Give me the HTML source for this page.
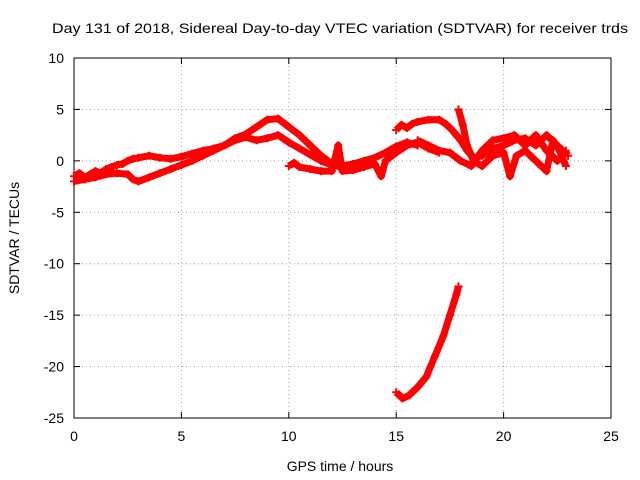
<!DOCTYPE html>
<html><head><meta charset="utf-8"><style>
body{margin:0;background:#fff;}
svg{display:block;font-family:"Liberation Sans",sans-serif;font-size:14px;}
</style></head><body>
<svg id="chart" width="640" height="480" viewBox="0 0 640 480">
<rect x="0" y="0" width="640" height="480" fill="#fff"/>
<text x="340" y="33" text-anchor="middle" textLength="576" lengthAdjust="spacingAndGlyphs">Day 131 of 2018, Sidereal Day-to-day VTEC variation (SDTVAR) for receiver trds</text>
<text x="340" y="471" text-anchor="middle">GPS time / hours</text>
<text transform="translate(19,238) rotate(-90)" text-anchor="middle">SDTVAR / TECUs</text>
<g id="grid"></g>
<g id="axes"></g>
<g id="marks"></g>
</svg>
<script>
const xTicks=[0,5,10,15,20,25];
const yTicks=[10,5,0,-5,-10,-15,-20,-25];
const trackA=[[0,-1.5],[0.25,-1.2],[0.5,-1.6],[0.75,-1.3],[1,-1.0],[1.25,-1.2],[1.5,-0.8],[1.75,-0.6],[2,-0.4],[2.25,-0.3],[2.5,0],[2.75,0.2],[3,0.3],[3.5,0.5],[4,0.3],[4.5,0.2],[5,0.4],[5.5,0.7],[6,1.0],[6.5,1.2],[7,1.5],[7.5,2.0],[8,2.3],[8.5,2.0],[9,2.2],[9.5,2.5],[10,1.8],[10.5,1.2],[11,0.6],[11.5,0],[12,-0.4],[12.5,-0.5],[13,-0.3],[13.5,0],[14,0.3],[14.5,0.8],[15,1.4],[15.5,1.8],[16,1.5]];
const trackB=[[0,-2],[0.5,-1.8],[1,-1.6],[1.5,-1.3],[2,-1.2],[2.5,-1.3],[2.75,-1.8],[3,-2],[3.5,-1.6],[4,-1.2],[4.5,-0.8],[5,-0.4],[5.5,0],[6,0.5],[6.5,1],[7,1.5],[7.5,2.2],[8,2.6],[8.5,3.3],[9,4],[9.5,4.1],[10,3.3],[10.5,2.5],[11,1.5],[11.5,0.5],[12,-0.3],[12.5,-0.7],[13,-0.6],[13.5,-0.3]];
const trackF=[[10,-0.5],[10.25,-0.2],[10.5,-0.6],[11,-0.8],[11.5,-1],[12,-1],[12.3,1.5],[12.5,-1],[13,-0.9],[13.5,-0.6],[14,-0.3],[14.3,-1.5],[14.5,0],[15,0.8],[15.5,1.5],[16,1.8],[16.5,1.2],[17,0.8]];
const trackC=[[15,3],[15.25,3.5],[15.5,3.2],[15.75,3.6],[16,3.8],[16.5,4],[17,4],[17.3,3.6],[17.6,3],[18,2],[18.3,1],[18.6,0.3],[19,0.5],[19.5,1.2],[20,1.5],[20.5,2],[21,2.2],[21.5,1.5],[22,2.5],[22.5,1.5],[23,0.5]];
const trackD=[[17.9,5],[18.1,3.5],[18.3,1.5],[18.6,0],[19,-0.5],[19.5,0.5],[20,0.8],[20.3,-1.5],[20.6,0.5],[21,1],[21.5,0],[22,-1],[22.3,2],[22.6,1],[22.9,-0.5]];
const trackG=[[16,2],[16.5,1.5],[17,1],[17.5,0.8],[18,0],[18.5,-0.5],[19,1],[19.5,2],[20,2.2],[20.5,2.5],[21,1.5],[21.5,2.5],[22,1],[22.5,0],[22.9,1]];
const trackE=[[15,-22.5],[15.3,-23.1],[15.6,-22.8],[16,-22],[16.4,-21],[16.8,-19],[17.2,-17],[17.5,-15],[17.8,-13],[17.9,-12.2]];
const tracks=[trackA,trackB,trackF,trackC,trackD,trackG,trackE];

const L=74,R=611,T=58,B=418;
const xs=v=>L+(v-0)/25*(R-L);
const ys=v=>T+(10-v)/35*(B-T);
const NS='http://www.w3.org/2000/svg';
const grid=document.getElementById('grid'),axes=document.getElementById('axes'),marks=document.getElementById('marks');
function mk(tag,attrs,parent){const e=document.createElementNS(NS,tag);for(const k in attrs)e.setAttribute(k,attrs[k]);parent.appendChild(e);return e;}
xTicks.forEach(t=>{
  const x=xs(t);
  if(t>0&&t<25){const g=mk('line',{x1:x,x2:x,y1:T,y2:B,stroke:'#a0a0a0','stroke-dasharray':'1,3'},grid);
  
  }
  mk('line',{x1:x,x2:x,y1:B,y2:B-6,stroke:'#000'},axes);
  mk('line',{x1:x,x2:x,y1:T,y2:T+6,stroke:'#000'},axes);
  const l=mk('text',{x:x,y:B+23,'text-anchor':'middle'},axes);l.textContent=t;
  
  
});
yTicks.forEach(t=>{
  const y=ys(t);
  if(t<10&&t>-25){const g=mk('line',{x1:L,x2:R,y1:y,y2:y,stroke:'#a0a0a0','stroke-dasharray':'1,3'},grid);
  
  }
  mk('line',{x1:L,x2:L+6,y1:y,y2:y,stroke:'#000'},axes);
  mk('line',{x1:R,x2:R-6,y1:y,y2:y,stroke:'#000'},axes);
  const l=mk('text',{x:L-10,y:y+5,'text-anchor':'end'},axes);l.textContent=t;
  
  
});
mk('rect',{x:L,y:T,width:R-L,height:B-T,fill:'none',stroke:'#000'},axes);
tracks.forEach((tr,i)=>{
  const pl=mk('polyline',{points:tr.map(p=>xs(p[0])+','+ys(p[1])).join(' '),fill:'none',stroke:'#ff0000','stroke-width':7,'stroke-linejoin':'round'},marks);
  
  
  tr.forEach(p=>{
    const x=xs(p[0]),y=ys(p[1]);
    const m=mk('path',{d:`M${x-4},${y}H${x+4}M${x},${y-4}V${y+4}`,stroke:'#ff0000','stroke-width':2},marks);
    
    
  });
});
</script>
</body></html>
